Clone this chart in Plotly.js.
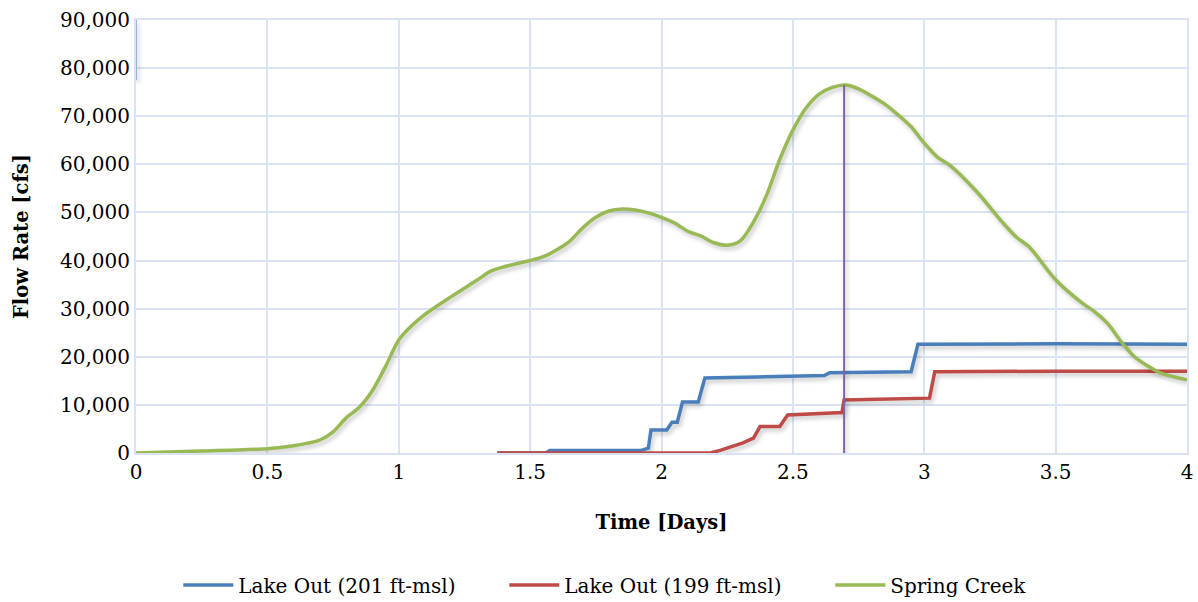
<!DOCTYPE html>
<html><head><meta charset="utf-8">
<script src="https://cdn.plot.ly/plotly-3.0.1.min.js"></script>
<style>
html,body{margin:0;padding:0;background:#fff}#chart{width:1198px;height:602px}
.scatterlayer .trace path.js-line{filter:drop-shadow(2px 3px 2px rgba(0,0,0,0.22));}
</style>
</head><body><div id="chart"></div>
<script>
// Spring Creek
const springX = [0,0.25,0.5,0.6,0.65,0.7,0.75,0.8,0.85,0.9,0.95,1.0,1.05,1.1,1.2,1.3,1.35,1.4,1.5,1.55,1.6,1.65,1.7,1.75,1.8,1.85,1.9,1.95,2.0,2.05,2.1,2.15,2.2,2.25,2.3,2.35,2.4,2.45,2.5,2.55,2.6,2.65,2.7,2.75,2.8,2.85,2.9,2.95,3.0,3.05,3.1,3.2,3.3,3.35,3.4,3.5,3.6,3.65,3.7,3.75,3.8,3.85,3.9,4.0];
const springY = [0,400,900,1500,2000,2700,4400,7300,9500,13000,18000,23500,26500,28800,32500,36000,37800,38700,40000,40800,42200,44000,46800,49000,50300,50700,50500,49900,49000,47800,46100,45100,43700,43200,44100,48000,53600,61000,67100,71700,74600,76000,76500,75700,74200,72500,70300,67800,64400,61500,59700,54300,47800,44900,42800,36000,31200,29300,26800,23100,20000,18100,16600,15200];
// Lake Out (201 ft-msl)
const lake201X = [1.375,1.56,1.575,1.92,1.95,1.96,2.02,2.04,2.06,2.08,2.14,2.165,2.62,2.64,2.95,2.976,3.5,4.0];
const lake201Y = [0,0,500,500,1000,4800,4800,6400,6400,10600,10600,15600,16100,16700,16900,22600,22700,22600];
// Lake Out (199 ft-msl)
const lake199X = [1.375,2.185,2.22,2.27,2.31,2.35,2.375,2.45,2.48,2.687,2.695,3.02,3.04,3.5,4.0];
const lake199Y = [0,0,500,1300,2100,3100,5500,5500,7900,8400,11000,11400,16900,17000,17000];
// vertical marker at peak
const peakX = [2.695,2.695];
const peakY = [0,76500];
// short segment at time 0
const edgeX = [0,0];
const edgeY = [90000,77500];

const xTicks = [0,0.5,1,1.5,2,2.5,3,3.5,4];
const xTickText = ['0','0.5','1','1.5','2','2.5','3','3.5','4'];
const yTicks = [0,10000,20000,30000,40000,50000,60000,70000,80000,90000];

const FONT = 'DejaVu Serif, Liberation Serif, serif';
const gridC = 'rgb(217,227,242)';

const traces = [
  {x: edgeX, y: edgeY, mode:'lines', line:{color:'rgb(150,178,224)', width:2}, showlegend:false, hoverinfo:'skip'},
  {x: lake201X, y: lake201Y, mode:'lines', name:'Lake Out (201 ft-msl)', line:{color:'#4a7ebb', width:3.5}},
  {x: lake199X, y: lake199Y, mode:'lines', name:'Lake Out (199 ft-msl)', line:{color:'#be4b48', width:3.5}},
  {x: springX, y: springY, mode:'lines', name:'Spring Creek', line:{color:'#98b954', width:3.5, shape:'spline', smoothing:0.8}},
  {x: peakX, y: peakY, mode:'lines', line:{color:'#8064a2', width:2}, showlegend:false}
];

const layout = {
  width:1198, height:602,
  margin:{l:136, r:11, t:20, b:149, autoexpand:false},
  paper_bgcolor:'#fff', plot_bgcolor:'#fff',
  font:{family:FONT, size:20, color:'#000'},
  xaxis:{range:[0,4], tickvals:xTicks, ticktext:xTickText, showgrid:true, gridcolor:gridC, gridwidth:2,
    zeroline:false, showline:true, linecolor:gridC, linewidth:2, mirror:true, ticks:'', ticklen:0,
    automargin:false,
    title:{text:'<b>Time [Days]</b>', font:{family:FONT, size:19.5}, standoff:32}, tickfont:{family:FONT,size:20}},
  yaxis:{range:[0,90000], tickvals:yTicks, tickformat:',d', showgrid:true, gridcolor:gridC, gridwidth:2,
    zeroline:false, showline:true, linecolor:gridC, linewidth:2, mirror:true, ticks:'',
    automargin:false,
    title:{text:'<b>Flow Rate [cfs]</b>', font:{family:FONT, size:19.5}, standoff:26}, tickfont:{family:FONT,size:20}},
  legend:{orientation:'h', x:0.557, xref:'container', xanchor:'center', y:(602-585)/602, yref:'container', yanchor:'middle',
    font:{family:FONT, size:20}, itemwidth:50, entrywidth:261, entrywidthmode:'pixels'},
  showlegend:true
};
Plotly.newPlot('chart', traces, layout, {displayModeBar:false, staticPlot:true});
</script></body></html>
